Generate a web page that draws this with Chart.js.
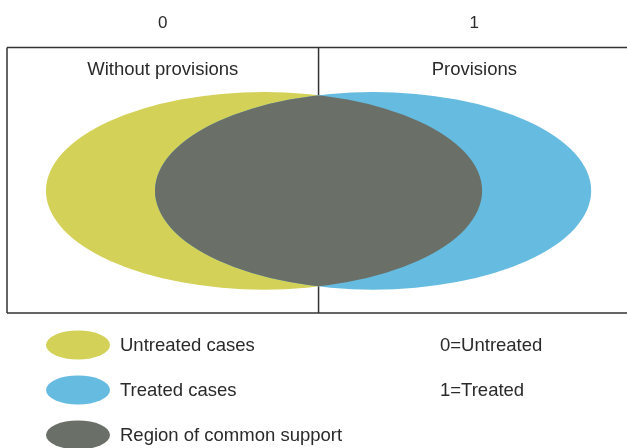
<!DOCTYPE html>
<html>
<head>
<meta charset="utf-8">
<script src="https://cdn.jsdelivr.net/npm/chart.js@4/dist/chart.umd.min.js"></script>
<style>
  html, body { margin: 0; padding: 0; background: #fff; }
  #wrap { width: 627px; height: 448px; }
</style>
</head>
<body>
<div id="wrap"><canvas id="c" width="627" height="448"></canvas></div>
<script>
// ---- data ----
const groupTicks = [0, 1];
const groupTickLabels = ['0', '1'];
const groupTitles = ['Without provisions', 'Provisions'];
const panelBounds = [-0.5, 0.5, 1.5];
const ellipseNames = ['Untreated cases', 'Treated cases'];
const ellipseCenterX = [0.325, 0.675];
const ellipseCenterY = [4.6, 4.6];
const ellipseRadiusX = [0.70, 0.70];
const ellipseRadiusY = [3.72, 3.72];
const legendLabels = ['Untreated cases', 'Treated cases', 'Region of common support'];
const codeLabels = ['0=Untreated', '1=Treated'];
const colors = ['#D3D157', '#65BBE0', '#6A7067'];

const FONT = '"Liberation Sans", Arial, Helvetica, sans-serif';
const TEXT = '#2a2a2a';

function ellipsePath(ctx, cx, cy, rx, ry) {
  ctx.beginPath();
  ctx.ellipse(cx, cy, rx, ry, 0, 0, Math.PI * 2);
  ctx.closePath();
}

const diagramPlugin = {
  id: 'diagram',
  beforeDatasetsDraw(chart) {
    const { ctx, scales: { x, y } } = chart;
    ctx.save();
    // panel frame
    ctx.strokeStyle = '#333';
    ctx.lineWidth = 1.5;
    ctx.beginPath();
    const top = y.getPixelForValue(y.max), bottom = y.getPixelForValue(y.min);
    const xl = x.getPixelForValue(panelBounds[0]);
    const xr = x.getPixelForValue(panelBounds[panelBounds.length - 1]);
    ctx.moveTo(xl, top); ctx.lineTo(xr, top);
    ctx.moveTo(xl, bottom); ctx.lineTo(xr, bottom);
    panelBounds.forEach(v => {
      const px = x.getPixelForValue(v);
      ctx.moveTo(px, top); ctx.lineTo(px, bottom);
    });
    ctx.stroke();

    // panel titles
    ctx.fillStyle = TEXT;
    ctx.font = '18.5px ' + FONT;
    ctx.textAlign = 'center';
    ctx.textBaseline = 'middle';
    groupTicks.forEach((v, i) => {
      ctx.fillText(groupTitles[i], x.getPixelForValue(v), y.getPixelForValue(9.15));
    });

    // ellipses
    const geo = ellipseNames.map((n, i) => {
      const cx = x.getPixelForValue(ellipseCenterX[i]);
      const cy = y.getPixelForValue(ellipseCenterY[i]);
      const rx = Math.abs(x.getPixelForValue(ellipseCenterX[i] + ellipseRadiusX[i]) - cx);
      const ry = Math.abs(y.getPixelForValue(ellipseCenterY[i] + ellipseRadiusY[i]) - cy);
      return { cx, cy, rx, ry };
    });
    geo.forEach((g, i) => {
      ctx.fillStyle = colors[i];
      ellipsePath(ctx, g.cx, g.cy, g.rx, g.ry);
      ctx.fill();
    });
    // region of common support = intersection
    ctx.save();
    ellipsePath(ctx, geo[0].cx, geo[0].cy, geo[0].rx, geo[0].ry);
    ctx.clip();
    ctx.fillStyle = colors[2];
    ellipsePath(ctx, geo[1].cx, geo[1].cy, geo[1].rx, geo[1].ry);
    ctx.fill();
    ctx.restore();

    // legend
    ctx.font = '18.5px ' + FONT;
    ctx.textAlign = 'left';
    ctx.textBaseline = 'middle';
    legendLabels.forEach((lab, i) => {
      const cy = 345 + i * 45;
      ctx.fillStyle = colors[i];
      ellipsePath(ctx, 78, cy, 32, 14.5);
      ctx.fill();
      ctx.fillStyle = TEXT;
      ctx.fillText(lab, 120, cy + 1);
    });
    codeLabels.forEach((lab, i) => {
      ctx.fillStyle = TEXT;
      ctx.fillText(lab, 440, 345 + i * 45 + 1);
    });
    ctx.restore();
  }
};

new Chart(document.getElementById('c'), {
  type: 'scatter',
  data: { datasets: [{ label: 'frame', data: [] }] },
  options: {
    responsive: false,
    animation: false,
    devicePixelRatio: 1,
    layout: { padding: { top: 0, left: 7, right: 0, bottom: 135 } },
    plugins: { legend: { display: false }, tooltip: { enabled: false } },
    scales: {
      x: {
        type: 'linear',
        position: 'top',
        min: -0.5,
        max: 1.49,
        afterBuildTicks(scale) { scale.ticks = groupTicks.map(v => ({ value: v })); },
        grid: { display: false, drawTicks: false },
        border: { display: false },
        ticks: {
          color: TEXT,
          font: { family: FONT, size: 17 },
          padding: 13.5,
          callback: (v) => groupTickLabels[groupTicks.indexOf(v)] ?? ''
        }
      },
      y: {
        type: 'linear',
        display: false,
        min: 0,
        max: 10
      }
    }
  },
  plugins: [diagramPlugin]
});
</script>
</body>
</html>
